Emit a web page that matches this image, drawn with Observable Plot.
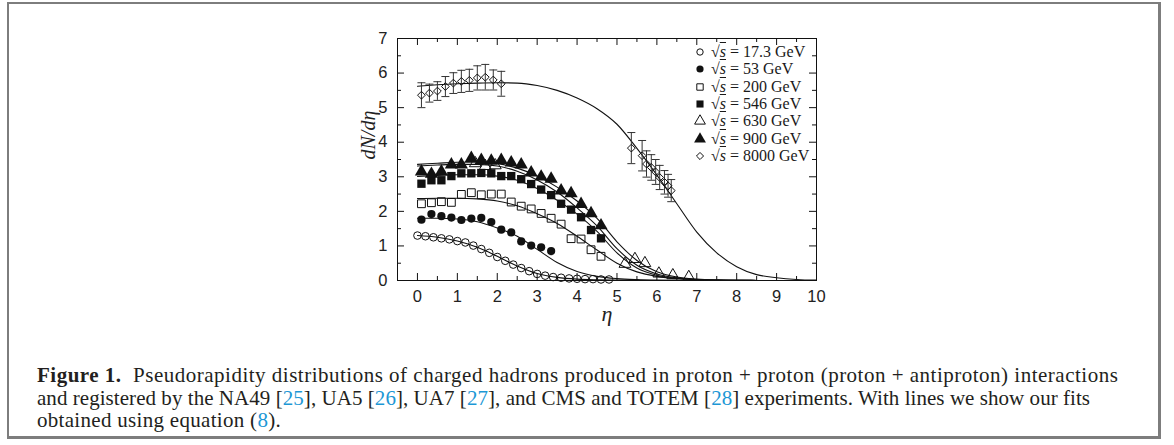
<!DOCTYPE html>
<html><head><meta charset="utf-8">
<script src="https://cdn.jsdelivr.net/npm/d3@7"></script>
<script src="https://cdn.jsdelivr.net/npm/@observablehq/plot@0.6"></script>
<style>
body{margin:0;background:#fff;}
#wrap{position:relative;width:1174px;height:445px;overflow:hidden;background:#fff;}
#box{position:absolute;left:7px;top:2px;width:1154px;height:437px;box-sizing:border-box;border-style:solid;border-color:#7d7d7d;border-width:2px 3px 3px 2px;}
#chart{position:absolute;left:0;top:0;}
.lrow{position:absolute;left:694px;height:18px;font-family:"Liberation Serif",serif;font-size:16px;line-height:18px;color:#1a1a1a;white-space:nowrap;}
.lrow svg{position:absolute;left:0;top:0;}
.lrow span.t{position:absolute;left:17px;top:0;}
.ov{font-style:italic;text-decoration:overline;}
#caption{position:absolute;left:37px;top:364px;font-family:"Liberation Serif",serif;font-size:21px;line-height:22.5px;color:#231f20;white-space:nowrap;}
#caption .l1{letter-spacing:0.5px;}
#caption .l2{letter-spacing:0.05px;}
#caption .l3{letter-spacing:0.3px;}
.ref{color:#1c97d5;}
</style></head>
<body><div id="wrap"><div id="box"></div><div id="chart"></div><div id="legend"></div>
<div id="caption">
<div class="l1"><b>Figure 1.</b>&nbsp;&nbsp;Pseudorapidity distributions of charged hadrons produced in proton + proton (proton + antiproton) interactions</div>
<div class="l2">and registered by the NA49 [<span class="ref">25</span>], UA5 [<span class="ref">26</span>], UA7 [<span class="ref">27</span>], and CMS and TOTEM [<span class="ref">28</span>] experiments. With lines we show our fits</div>
<div class="l3">obtained using equation (<span class="ref">8</span>).</div>
</div></div>
<script>
// ---- data ----
const eta173 = [0,0.2,0.4,0.6,0.8,1.0,1.2,1.4,1.6,1.8,2.0,2.2,2.4,2.6,2.8,3.0,3.2,3.4,3.6,3.8,4.0,4.2,4.4,4.6,4.8];
const dn173  = [1.30,1.28,1.25,1.22,1.19,1.14,1.10,1.01,0.91,0.80,0.68,0.57,0.46,0.36,0.27,0.19,0.14,0.10,0.08,0.06,0.05,0.04,0.04,0.03,0.03];
const eta53 = [0.1,0.35,0.6,0.85,1.1,1.35,1.6,1.85,2.1,2.35,2.6,2.85,3.1,3.35];
const dn53  = [1.76,1.92,1.86,1.82,1.75,1.79,1.81,1.69,1.47,1.39,1.13,1.01,0.96,0.85];
const eta200 = [0.1,0.35,0.6,0.85,1.1,1.35,1.6,1.85,2.1,2.35,2.6,2.85,3.1,3.35,3.6,3.85,4.1,4.35,4.6];
const dn200  = [2.22,2.25,2.28,2.26,2.49,2.54,2.48,2.50,2.50,2.27,2.15,2.07,1.94,1.80,1.63,1.21,1.20,0.89,0.70];
const eta546 = [0.1,0.35,0.6,0.85,1.1,1.35,1.6,1.85,2.1,2.35,2.6,2.85,3.1,3.35,3.6,3.85,4.1,4.35,4.6];
const dn546  = [2.80,2.90,2.90,3.02,3.10,3.10,3.11,3.10,3.02,3.02,2.93,2.79,2.63,2.47,2.22,2.05,1.83,1.46,1.22];
const eta630 = [1.45,1.7,1.95,5.2,5.45,5.7,6.05,6.4,6.8];
const dn630  = [3.39,3.31,3.33,0.48,0.62,0.50,0.20,0.15,0.10];
const eta900 = [0.1,0.35,0.6,0.85,1.1,1.35,1.6,1.85,2.1,2.35,2.6,2.85,3.1,3.35,3.6,3.85,4.1,4.35,4.6];
const dn900  = [3.15,3.08,3.15,3.35,3.35,3.54,3.48,3.46,3.48,3.41,3.35,3.12,3.00,2.94,2.60,2.52,2.21,1.94,1.59];
const eta8000 = [0.1,0.3,0.5,0.7,0.9,1.1,1.3,1.5,1.7,1.9,2.1,5.36,5.63,5.74,5.86,5.97,6.07,6.19,6.28,6.36];
const dn8000  = [5.36,5.42,5.48,5.61,5.71,5.76,5.79,5.86,5.88,5.80,5.69,3.83,3.61,3.37,3.27,3.14,2.98,2.84,2.74,2.60];
const err8000 = [0.36,0.26,0.27,0.29,0.30,0.32,0.32,0.35,0.37,0.29,0.36,0.45,0.44,0.38,0.37,0.36,0.35,0.34,0.33,0.32];

// fitted curves
const fitEta = [0,0.5,1,1.5,2,2.5,3,3.5,4,4.5,5,5.5,6,6.5,7,7.5,8,8.5,9,9.5,10];
const fit173  = [1.30,1.25,1.14,0.96,0.70,0.42,0.20,0.09,0.04,0.02,0.01,0.005,0.002,0.001,0,0,0,0,0,0,0];
const fit53   = [1.80,1.80,1.78,1.70,1.52,1.28,0.90,0.52,0.26,0.12,0.055,0.025,0.01,0.004,0.002,0,0,0,0,0,0];
const fit200  = [2.37,2.38,2.38,2.36,2.30,2.16,1.93,1.65,1.28,0.88,0.50,0.25,0.12,0.05,0.02,0.01,0.004,0,0,0,0];
const fit546  = [3.01,3.04,3.06,3.06,3.02,2.90,2.66,2.32,1.92,1.42,0.80,0.36,0.15,0.065,0.025,0.01,0.004,0.002,0,0,0];
const fit630  = [3.31,3.34,3.36,3.36,3.31,3.16,2.91,2.56,2.10,1.58,0.92,0.44,0.19,0.075,0.03,0.012,0.005,0.002,0,0,0];
const fit900  = [3.36,3.39,3.42,3.42,3.38,3.25,3.02,2.70,2.30,1.80,1.12,0.58,0.25,0.10,0.04,0.015,0.006,0.002,0,0,0];
const fit8000 = [5.62,5.66,5.69,5.71,5.72,5.71,5.64,5.50,5.28,4.97,4.52,3.82,3.05,2.22,1.40,0.80,0.40,0.17,0.08,0.03,0.01];

const xTickLabels = [0,1,2,3,4,5,6,7,8,9,10];
const yTickLabels = [0,1,2,3,4,5,6,7];
const xMinorTicks = [0.5,1.5,2.5,3.5,4.5,5.5,6.5,7.5,8.5,9.5];
const yMinorTicks = [0.5,1.5,2.5,3.5,4.5,5.5,6.5];
const legendLabels = ["17.3","53","200","546","630","900","8000"];

// ---- build ----
const W = 1174, H = 340, mT = 38, mB = 60, mL = 397, mR = 358;
const plotH = H - mT - mB, plotW = W - mL - mR;
const pts = (xs, ys) => xs.map((x, i) => ({x, y: ys[i]}));
const fits = [fit173, fit53, fit200, fit546, fit630, fit900, fit8000];
const err = eta8000.map((x, i) => ({x, y: dn8000[i], lo: dn8000[i] - err8000[i], hi: dn8000[i] + err8000[i]}));
const cap = {draw(ctx) { ctx.moveTo(-4, 0); ctx.lineTo(4, 0); }};
const ink = "#111";

const marks = [
  Plot.frame({stroke: ink, strokeWidth: 1}),
  Plot.tickX(xTickLabels, {x: d => d, insetTop: plotH - 7, stroke: ink}),
  Plot.tickX(xTickLabels, {x: d => d, insetBottom: plotH - 7, stroke: ink}),
  Plot.tickX(xMinorTicks, {x: d => d, insetTop: plotH - 4, stroke: ink}),
  Plot.tickX(xMinorTicks, {x: d => d, insetBottom: plotH - 4, stroke: ink}),
  Plot.tickY(yTickLabels, {y: d => d, insetRight: plotW - 7, stroke: ink}),
  Plot.tickY(yTickLabels, {y: d => d, insetLeft: plotW - 7, stroke: ink}),
  Plot.tickY(yMinorTicks, {y: d => d, insetRight: plotW - 4, stroke: ink}),
  Plot.tickY(yMinorTicks, {y: d => d, insetLeft: plotW - 4, stroke: ink}),
  Plot.axisX(xTickLabels, {tickSize: 0, tickPadding: 10, fontSize: 16.5, fontFamily: "Liberation Sans", fill: "#222", label: null}),
  Plot.axisY(yTickLabels, {tickSize: 0, tickPadding: 10, fontSize: 16.5, fontFamily: "Liberation Sans", fill: "#222", label: null}),
  Plot.text(["η"], {frameAnchor: "bottom", dy: 40, fontSize: 22, fontStyle: "italic", fontFamily: "Liberation Serif", fill: "#222"}),
  Plot.text(["dN/dη"], {frameAnchor: "left", dx: -29, rotate: -90, fontSize: 20, fontStyle: "italic", fontFamily: "Liberation Serif", fill: "#222"}),
  ...fits.map(f => Plot.line(pts(fitEta, f), {x: "x", y: "y", curve: "monotone-x", stroke: ink, strokeWidth: 1.1})),
  Plot.ruleX(err, {x: "x", y1: "lo", y2: "hi", stroke: "#333", strokeWidth: 1}),
  Plot.dot(err, {x: "x", y: "lo", symbol: cap, stroke: "#333", fill: "none", strokeWidth: 1}),
  Plot.dot(err, {x: "x", y: "hi", symbol: cap, stroke: "#333", fill: "none", strokeWidth: 1}),
  Plot.dot(pts(eta173, dn173), {x: "x", y: "y", symbol: "circle", r: 3.8, stroke: ink, fill: "none", strokeWidth: 1}),
  Plot.dot(pts(eta53, dn53), {x: "x", y: "y", symbol: "circle", r: 4.1, fill: ink, stroke: "none"}),
  Plot.dot(pts(eta200, dn200), {x: "x", y: "y", symbol: "square", r: 4.4, stroke: ink, fill: "none", strokeWidth: 1}),
  Plot.dot(pts(eta546, dn546), {x: "x", y: "y", symbol: "square", r: 4.7, fill: ink, stroke: "none"}),
  Plot.dot(pts(eta630, dn630), {x: "x", y: "y", symbol: "triangle", r: 4.4, stroke: ink, fill: "none", strokeWidth: 1}),
  Plot.dot(pts(eta900, dn900), {x: "x", y: "y", symbol: "triangle", r: 4.9, fill: ink, stroke: "none"}),
  Plot.dot(pts(eta8000, dn8000), {x: "x", y: "y", symbol: "diamond2", r: 3.5, stroke: ink, fill: "none", strokeWidth: 1})
];

const chart = Plot.plot({
  width: W, height: H,
  marginTop: mT, marginBottom: mB, marginLeft: mL, marginRight: mR,
  x: {domain: [-0.5, 10]},
  y: {domain: [0, 7]},
  style: {background: "transparent", overflow: "visible"},
  marks
});
document.getElementById("chart").appendChild(chart);

const legendSym = [
  {t: d3.symbolCircle, r: 3.2, filled: false},
  {t: d3.symbolCircle, r: 3.6, filled: true},
  {t: d3.symbolSquare, r: 3.6, filled: false},
  {t: d3.symbolSquare, r: 4.0, filled: true},
  {t: d3.symbolTriangle, r: 4.0, filled: false},
  {t: d3.symbolTriangle, r: 4.4, filled: true},
  {t: d3.symbolDiamond2, r: 3.2, filled: false}
];
const leg = d3.select("#legend");
legendLabels.forEach((lab, i) => {
  const row = leg.append("div").attr("class", "lrow").style("top", (43 + i * 17.3) + "px");
  const s = row.append("svg").attr("width", 14).attr("height", 18);
  const sym = legendSym[i];
  s.append("path")
    .attr("transform", "translate(6,9)")
    .attr("d", d3.symbol(sym.t, Math.PI * sym.r * sym.r)())
    .attr("fill", sym.filled ? ink : "none")
    .attr("stroke", sym.filled ? "none" : ink)
    .attr("stroke-width", 1);
  row.append("span").attr("class", "t").html(`√<span class="ov">s</span> = ${lab} GeV`);
});
</script></body></html>
